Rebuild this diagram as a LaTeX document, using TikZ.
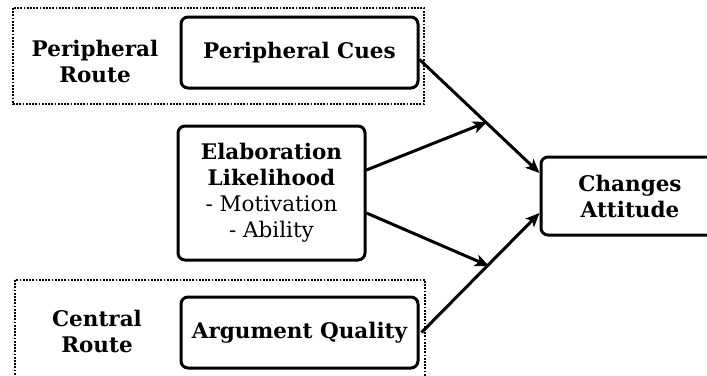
\documentclass[tikz,border=0pt]{standalone}
\usepackage{fontspec}
\setmainfont{DejaVu Serif}
\usetikzlibrary{arrows.meta,calc}
\tikzset{
  box/.style={draw,line width=3pt,rounded corners=7pt,align=center,inner sep=0pt},
  route/.style={draw,line width=1.5pt,dash pattern=on 1.8pt off 1.4pt},
  arr/.style={line width=3pt,-{Stealth[length=14pt,width=12pt,inset=3.5pt]}},
  big/.style={font=\fontsize{21.5}{26}\selectfont\bfseries},
  lbl/.style={align=center,big}
}
\begin{document}
\begin{tikzpicture}[x=1pt,y=-1pt]
\useasboundingbox (0,0) rectangle (707,375);
\begin{scope}
\clip (0,0) rectangle (707,375);
\draw[route] (13,8) rectangle (424,104);
\draw[route] (15,280) rectangle (425,390);
\node[box,big,minimum width=237pt,minimum height=71pt] (pc) at (299.5,52.5) {Peripheral Cues};
\node[box,minimum width=187pt,minimum height=134pt,font=\fontsize{21.5}{26}\selectfont] (el) at (271.5,193) {\textbf{Elaboration}\\\textbf{Likelihood}\\- Motivation\\- Ability};
\node[box,big,minimum width=178pt,minimum height=78pt] (ca) at (630,196) {Changes\\Attitude};
\node[box,big,minimum width=237pt,minimum height=71pt] (aq) at (299.5,332.5) {Argument Quality};
\node[lbl] (pr) at (95,61) {Peripheral\\Route};
\node[lbl] (cr) at (97,331) {Central\\Route};
\coordinate (m1) at (487,122);
\coordinate (m2) at (489,266);
\draw[arr] ([yshift=-7pt]pc.east) -- ([yshift=23pt]ca.west);
\draw[arr] ([yshift=23pt]el.east) -- (m1);
\draw[arr] ([yshift=-20pt]el.east) -- (m2);
\draw[arr] ([xshift=2pt]aq.east) -- ([yshift=-17pt]ca.west);
\end{scope}
\end{tikzpicture}
\end{document}
